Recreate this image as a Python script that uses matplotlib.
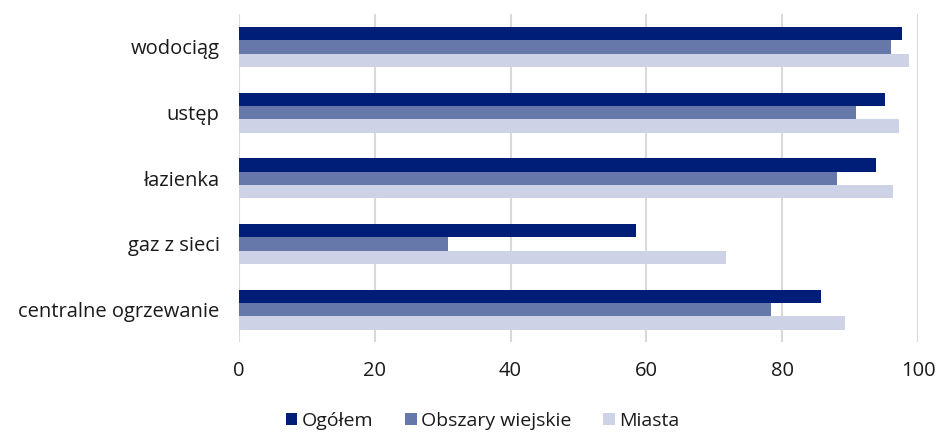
import numpy as np
import matplotlib
matplotlib.use("Agg")
import matplotlib.pyplot as plt

categories = ["wodociąg", "ustęp", "łazienka", "gaz z sieci", "centralne ogrzewanie"]
ogolem = [97.6, 95.2, 93.8, 58.5, 85.7]
wiejskie = [96.0, 90.8, 88.1, 30.8, 78.4]
miasta = [98.6, 97.2, 96.3, 71.7, 89.3]
series_names = ["Ogółem", "Obszary wiejskie", "Miasta"]
colors = ["#001E78", "#6677AA", "#CDD2E6"]


def main():
    plt.rcParams["font.family"] = ["Open Sans", "DejaVu Sans"]
    fig = plt.figure(figsize=(9.39, 4.32), dpi=100)
    ax = fig.add_axes([0.2545, 0.2072, 0.7232, 0.7604])

    y = np.arange(len(categories))
    h = 0.203
    for i, (vals, name, col) in enumerate(zip([ogolem, wiejskie, miasta], series_names, colors)):
        ax.barh(y + (i - 1) * h, vals, height=h, color=col, label=name,
                linewidth=0, zorder=3)

    ax.set_ylim(len(categories) - 0.5, -0.5)
    ax.set_xlim(0, 100)
    ax.set_yticks(y)
    ax.set_yticklabels(categories, fontsize=14.5, color="#1a1a1a")
    ax.set_xticks([0, 20, 40, 60, 80, 100])
    ax.tick_params(axis="x", labelsize=14.5, labelcolor="#1a1a1a", length=0, pad=13)
    ax.tick_params(axis="y", length=0, pad=14)
    ax.grid(axis="x", color="#D9D9D9", linewidth=1.5, zorder=0)
    for s in ax.spines.values():
        s.set_visible(False)

    leg = fig.legend(loc="center", bbox_to_anchor=(0.514, 0.026), ncol=3, frameon=False,
                     fontsize=14, handlelength=0.6, handleheight=0.6, handletextpad=0.25,
                     columnspacing=1.6, borderpad=0)
    for t in leg.get_texts():
        t.set_color("#1a1a1a")
    fig.savefig("out.png", dpi=100)
    plt.close(fig)


if __name__ == "__main__":
    main()
